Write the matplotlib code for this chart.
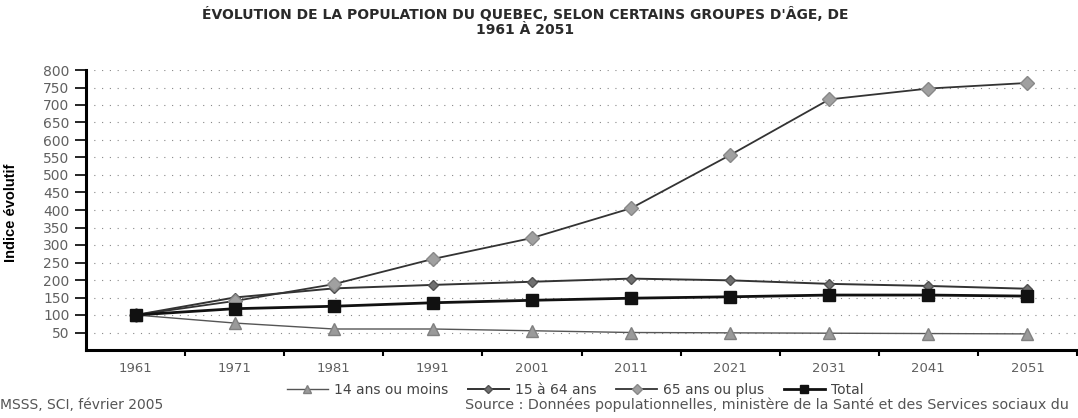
import matplotlib
matplotlib.use("Agg")
import matplotlib.pyplot as plt
import numpy as np

# values (index, 1961 = 100)
years = ["1961", "1971", "1981", "1991", "2001", "2011", "2021", "2031", "2041", "2051"]
ans_0_14 = [100, 77, 60, 60, 55, 50, 49, 48, 47, 46]
ans_15_64 = [100, 150, 176, 186, 195, 204, 199, 189, 183, 175]
ans_65_plus = [100, 140, 188, 260, 320, 405, 557, 716, 747, 763]
total = [100, 118, 125, 135, 142, 148, 152, 157, 157, 154]

yticks = list(range(50, 801, 50))

plt.rcParams["font.family"] = ["DejaVu Sans"]

W, H = 1078, 418
fig = plt.figure(figsize=(W / 100, H / 100), dpi=100)
ax = fig.add_axes([86 / W, 1 - 350 / H, 991 / W, 280 / H])

x = np.arange(len(years))
ax.plot(x, ans_0_14, color="#555555", lw=1.0, marker="^", ms=8,
        mfc="#9a9a9a", mec="#808080", label="14 ans ou moins")
ax.plot(x, ans_15_64, color="#333333", lw=1.4, marker="D", ms=5.5,
        mfc="#707070", mec="#505050", label="15 à 64 ans")
ax.plot(x, ans_65_plus, color="#333333", lw=1.3, marker="D", ms=7,
        mfc="#a0a0a0", mec="#888888", label="65 ans ou plus")
ax.plot(x, total, color="#111111", lw=2.0, marker="s", ms=8,
        mfc="#111111", mec="#111111", label="Total")

ax.set_xlim(-0.5, len(years) - 0.5)
ax.set_ylim(0, 800)
ax.set_yticks(yticks)
ax.set_yticklabels([str(v) for v in yticks], fontsize=10, color="#606060")
ax.set_xticks(x)
ax.set_xticklabels(years, fontsize=9.5, color="#606060")
ax.set_xticks(np.arange(len(years)) + 0.5, minor=True)
ax.tick_params(axis="x", which="major", length=0, pad=9)
ax.tick_params(axis="x", which="minor", length=4, width=1.5, direction="out")
ax.tick_params(axis="y", length=8, width=1.2, direction="out", pad=4)

ax.grid(True, axis="y", linestyle=(0, (1, 6)), color="#888888", lw=0.8)
ax.set_axisbelow(True)
for s in ["top", "right"]:
    ax.spines[s].set_visible(False)
ax.spines["left"].set_linewidth(2.2)
ax.spines["bottom"].set_linewidth(2.2)

ax.set_ylabel("Indice évolutif", fontsize=10.5, fontweight="bold",
              family=["Liberation Sans Narrow", "Liberation Sans"])
ax.yaxis.set_label_coords(-68 / 991, 0.49)

fig.text(525 / W, 1 - 22 / H,
         "ÉVOLUTION DE LA POPULATION DU QUEBEC, SELON CERTAINS GROUPES D'ÂGE, DE\n1961 À 2051",
         ha="center", va="center", fontsize=10, fontweight="bold", color="#2a2a2a",
         linespacing=1.05)

ax.legend(loc="center", bbox_to_anchor=(575 / W, 1 - 390 / H),
          bbox_transform=fig.transFigure, ncol=4, frameon=False, fontsize=10,
          handlelength=3.0, handletextpad=0.4, columnspacing=1.4,
          labelcolor="#444444", markerscale=0.75)

fig.text(0, 1 - 405 / H, "MSSS, SCI, février 2005", ha="left", va="center",
         fontsize=10, color="#555555")
fig.text(465 / W, 1 - 405 / H,
         "Source : Données populationnelles, ministère de la Santé et des Services sociaux du",
         ha="left", va="center", fontsize=10.3, color="#555555")

fig.savefig("out.png", dpi=100)
